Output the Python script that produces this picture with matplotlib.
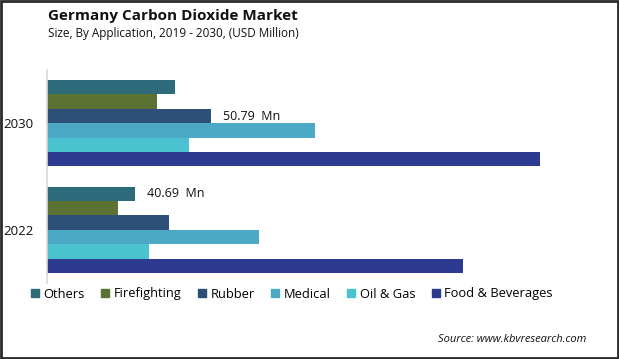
import matplotlib.pyplot as plt
import numpy as np
from matplotlib.patches import Rectangle

years = ["2022", "2030"]
segments = ["Others", "Firefighting", "Rubber", "Medical", "Oil & Gas", "Food & Beverages"]
colors = ["#2D6B7B", "#5C7233", "#2D4F78", "#4BA9C5", "#4BC2D0", "#2C3A8F"]

# values per segment: [2022, 2030]
others = [27.1, 39.6]
firefighting = [21.8, 34.0]
rubber = [37.7, 50.79]
medical = [65.7, 83.2]
oil_gas = [31.5, 44.2]
food_bev = [129.3, 153.3]
series = [others, firefighting, rubber, medical, oil_gas, food_bev]

plt.rcParams['font.family'] = ['Open Sans', 'DejaVu Sans']

fig = plt.figure(figsize=(6.19, 3.59), dpi=100)
W, H = 619, 359
ax = fig.add_axes([47.5 / W, 1 - 283 / H, 546 / W, 213 / H])

h = 0.135
y = np.arange(len(years))
for i, (name, vals) in enumerate(zip(segments, series)):
    off = (2.5 - i) * h
    ax.barh(y + off, vals, height=h, color=colors[i], label=name)

ax.set_xlim(0, 170)
ax.set_ylim(-0.5, 1.5)
ax.set_yticks(y)
ax.set_yticklabels(years, fontsize=9.5, color="#111111")
ax.tick_params(axis='y', length=0, pad=10)
ax.set_xticks([])
for s in ["top", "right", "bottom"]:
    ax.spines[s].set_visible(False)
ax.spines["left"].set_color("#d9d9d9")
ax.spines["left"].set_linewidth(1.2)

# value labels
ax.text(rubber[1] + 4, 1 + 0.5 * h, "50.79  Mn", va="center", ha="left", fontsize=9, color="#111111")
ax.text(others[0] + 4, 0 + 2.5 * h, "40.69  Mn", va="center", ha="left", fontsize=9, color="#111111")

fig.text(48 / W, 1 - 16 / H, "Germany Carbon Dioxide Market", fontsize=11, fontweight="bold",
         va="center", ha="left", color="#111111")
fig.text(48 / W, 1 - 34 / H, "Size, By Application, 2019 - 2030, (USD Million)", fontsize=8.5,
         va="center", ha="left", color="#111111")

handles = [Rectangle((0, 0), 1, 1, color=c) for c in colors]
fig.legend(handles, segments, loc="center left", bbox_to_anchor=(31 / W, 1 - 294 / H),
           ncol=6, frameon=False, fontsize=9.3, handlelength=0.6, handleheight=0.6,
           handletextpad=0.35, columnspacing=1.3, borderaxespad=0, borderpad=0)

fig.text(586 / W, 1 - 340 / H, "Source: www.kbvresearch.com", fontsize=8, style="italic",
         va="center", ha="right", color="#111111")

fig.patches.append(Rectangle((0.001, 0.002), 0.997, 0.996, transform=fig.transFigure,
                             fill=False, edgecolor="#2b2b2b", linewidth=2))

fig.savefig("out.png", dpi=100)
